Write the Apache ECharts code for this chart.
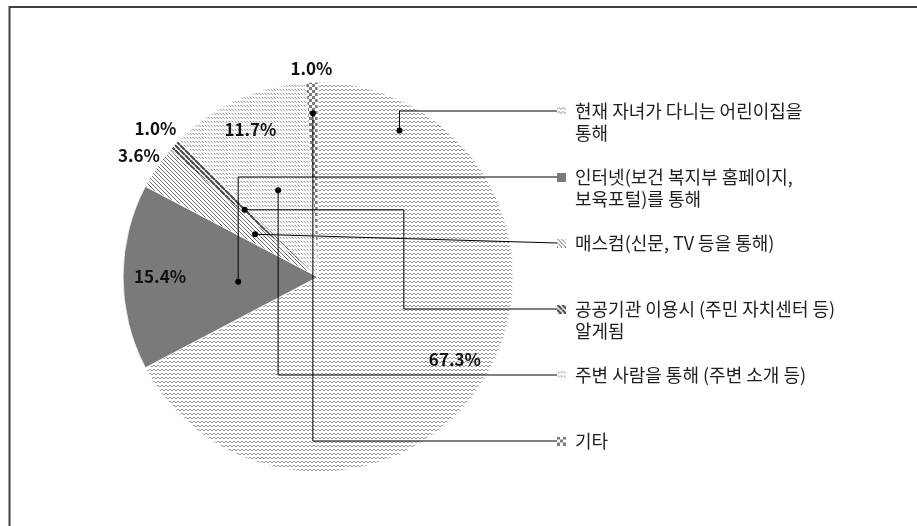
<!DOCTYPE html>
<html><head><meta charset="utf-8">
<script src="https://cdn.jsdelivr.net/npm/echarts@6/dist/echarts.min.js"></script>
<style>html,body{margin:0;padding:0;background:#fff}#main{width:917px;height:526px}</style>
</head><body><div id="main"></div>
<script>
// ---- data ----
const categories = [
  '현재 자녀가 다니는 어린이집을\n통해',
  '인터넷(보건 복지부 홈페이지,\n보육포털)를 통해',
  '매스컴(신문, TV 등을 통해)',
  '공공기관 이용시 (주민 자치센터 등)\n알게됨',
  '주변 사람을 통해 (주변 소개 등)',
  '기타'
];
const values = [67.3, 15.4, 3.6, 1.0, 11.7, 1.0];

// ---- style / layout config ----
const FONT = "'Noto Sans CJK KR', 'Noto Sans', sans-serif";
const CENTER = [318, 277], RADIUS = 195;
const LABEL_R = [0.82, 0.81, 1.11, 1.13, 0.83, 1.07];       // label distance (x radius)
const ANCHOR_FRAC = [0.12, 0.44, 0.5, 0.5, 0.5, 0.5];       // position inside slice angle
const ANCHOR_R = [0.86, 0.41, 0.39, 0.51, 0.49, 0.84];      // anchor distance (x radius)
const ROUTE = ['v', 'v', 'd', 'hv', 'v', 'v'];
const LEG_LEFT = 557, LEG_TOP = 78, LH = 22, ICON = 9;

function tile(w, h, draw) {
  const c = document.createElement('canvas'); c.width = w; c.height = h;
  const g = c.getContext('2d'); g.fillStyle = '#fff'; g.fillRect(0, 0, w, h); draw(g, w, h); return c;
}
function diag(g, n, color, lw) {
  g.strokeStyle = color; g.lineWidth = lw; g.beginPath();
  for (let k = -n; k <= n; k += n) { g.moveTo(k, 0); g.lineTo(k + n, n); }
  g.stroke();
}
const tiles = [
  tile(4, 4, g => { g.strokeStyle = '#959595'; g.lineWidth = 1; g.beginPath(); g.moveTo(0, 3); g.lineTo(2, 1); g.lineTo(4, 3); g.stroke(); }),
  null,
  tile(4, 4, g => diag(g, 4, '#6e6e6e', 1)),
  tile(5, 5, g => diag(g, 5, '#4a4a4a', 2.2)),
  tile(3, 4, g => { g.strokeStyle = '#808080'; g.lineWidth = 1; g.beginPath(); g.moveTo(0.5, 0.8); g.lineTo(2.5, 2.8); g.stroke(); }),
  tile(6, 6, g => { g.fillStyle = '#7c7c7c'; g.fillRect(0, 0, 3, 3); g.fillRect(3, 3, 3, 3); })
];
const SOLID = '#7a7a7a';
const fills = tiles.map(t => t ? { image: t, repeat: 'repeat' } : SOLID);
const icons = tiles.map(t => {
  const c = document.createElement('canvas'); c.width = ICON; c.height = ICON;
  const g = c.getContext('2d');
  g.fillStyle = t ? g.createPattern(t, 'repeat') : SOLID; g.fillRect(0, 0, ICON, ICON);
  return 'image://' + c.toDataURL();
});

const chart = echarts.init(document.getElementById('main'), null, { renderer: 'canvas' });
function itemLayout(i) {
  return chart.getModel().getSeriesByIndex(0).getData().getItemLayout(i);
}

chart.setOption({
  animation: false,
  backgroundColor: '#fff',
  legend: {
    orient: 'vertical', left: LEG_LEFT, top: LEG_TOP, padding: 0,
    itemGap: 0, itemWidth: ICON, itemHeight: ICON, selectedMode: false,
    textStyle: { fontFamily: FONT, fontSize: 18, lineHeight: LH, color: '#1e1e1e', padding: [0, 0, 0, 4] },
    // every entry is a 3-line block whose middle line is the first text line, so icons sit on line 1
    formatter: name => '\n' + name + (name.indexOf('\n') >= 0 ? '' : '\n'),
    data: categories.map((name, i) => ({ name, icon: icons[i] }))
  },
  series: [{
    type: 'pie', center: CENTER, radius: RADIUS, startAngle: 90, clockwise: true,
    silent: true, avoidLabelOverlap: false,
    itemStyle: { borderColor: '#fff', borderWidth: 0.8 },
    label: {
      show: true, position: 'inside', fontFamily: FONT, fontSize: 17, fontWeight: 'bold', color: '#111',
      formatter: p => p.value.toFixed(1) + '%'
    },
    labelLine: { show: false },
    labelLayout: function (p) {
      const l = itemLayout(p.dataIndex);
      const a = (l.startAngle + l.endAngle) / 2, rr = l.r * LABEL_R[p.dataIndex];
      return { x: l.cx + rr * Math.cos(a), y: l.cy + rr * Math.sin(a), align: 'center', verticalAlign: 'middle' };
    },
    data: categories.map((name, i) => ({ name, value: values[i], itemStyle: { color: fills[i] } }))
  }]
});

// ---- leader lines from slices to legend entries ----
const graphics = [{
  type: 'rect', z: 200, silent: true,
  shape: { x: 9.5, y: 7, width: 1000, height: 600 },
  style: { fill: 'none', stroke: '#404040', lineWidth: 2 }
}];
categories.forEach((name, i) => {
  const l = itemLayout(i);
  const a = l.startAngle + ANCHOR_FRAC[i] * (l.endAngle - l.startAngle);
  const ax = l.cx + ANCHOR_R[i] * l.r * Math.cos(a), ay = l.cy + ANCHOR_R[i] * l.r * Math.sin(a);
  const ly = LEG_TOP + 1.5 * LH + i * 3 * LH, lx = LEG_LEFT;
  let pts;
  if (ROUTE[i] === 'v') pts = [[ax, ay], [ax, ly], [lx, ly]];
  else if (ROUTE[i] === 'd') pts = [[ax, ay], [lx, ly]];
  else { const ex = l.cx + 0.44 * l.r; pts = [[ax, ay], [ex, ay], [ex, ly], [lx, ly]]; }
  graphics.push({ type: 'polyline', z: 150, silent: true, shape: { points: pts }, style: { stroke: '#000', lineWidth: 1, fill: null } });
  graphics.push({ type: 'circle', z: 151, silent: true, shape: { cx: ax, cy: ay, r: 3 }, style: { fill: '#000' } });
});
chart.setOption({ graphic: graphics });
</script>
</body></html>
